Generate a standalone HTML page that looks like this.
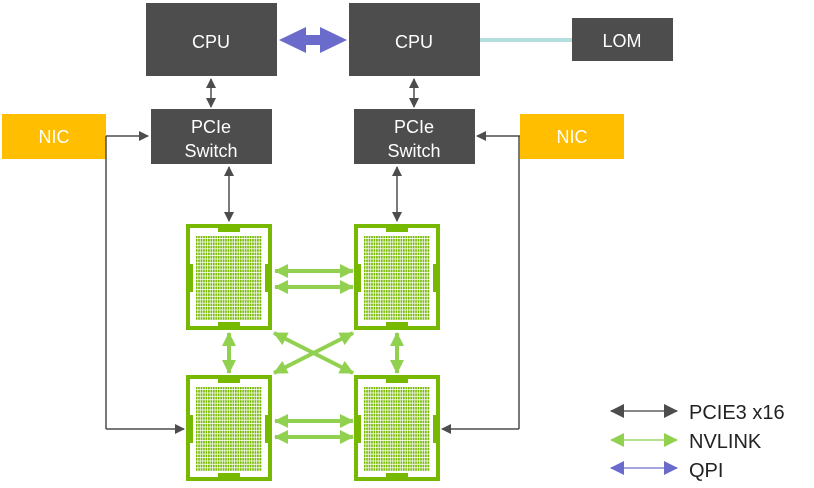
<!DOCTYPE html>
<html><head><meta charset="utf-8"><style>
html,body{margin:0;padding:0;background:#fff;}
svg{display:block;font-family:"Liberation Sans","DejaVu Sans",sans-serif;}
</style></head><body>
<svg width="814" height="488" viewBox="0 0 814 488" xmlns="http://www.w3.org/2000/svg">
<defs>
<pattern id="g" patternUnits="userSpaceOnUse" width="2.45" height="3.4" x="196" y="236">
<rect width="1.7" height="2.6" fill="#76b900"/>
</pattern>
<g id="chip">
<rect x="2" y="2" width="82" height="102" fill="none" stroke="#76b900" stroke-width="4"/>
<rect x="32" y="0" width="22" height="8" fill="#76b900"/>
<rect x="32" y="98" width="22" height="8" fill="#76b900"/>
<rect x="3" y="40" width="4" height="28" fill="#76b900"/>
<rect x="79" y="40" width="4" height="28" fill="#76b900"/>
<rect x="10" y="12" width="66" height="84" fill="url(#g)"/>
</g>
<marker id="ad" viewBox="0 0 10 10" refX="9" refY="5" markerWidth="10" markerHeight="10" markerUnits="userSpaceOnUse" orient="auto-start-reverse"><path d="M0,0L10,5L0,10z" fill="#4d4d4d"/></marker>
<marker id="ag" viewBox="0 0 14 14" refX="13" refY="7" markerWidth="14" markerHeight="14" markerUnits="userSpaceOnUse" orient="auto-start-reverse"><path d="M0,0L14,7L0,14z" fill="#92d050"/></marker>
<marker id="ad2" viewBox="0 0 14 14" refX="13" refY="7" markerWidth="14" markerHeight="14" markerUnits="userSpaceOnUse" orient="auto-start-reverse"><path d="M0,0L14,7L0,14z" fill="#4d4d4d"/></marker>
<marker id="ap" viewBox="0 0 14 14" refX="13" refY="7" markerWidth="14" markerHeight="14" markerUnits="userSpaceOnUse" orient="auto-start-reverse"><path d="M0,0L14,7L0,14z" fill="#6b6bcc"/></marker>
</defs>

<rect x="146" y="3" width="131" height="73" fill="#4d4d4d"/>
<rect x="349" y="3" width="131" height="73" fill="#4d4d4d"/>
<rect x="572" y="18" width="101" height="43" fill="#4d4d4d"/>
<rect x="151" y="109" width="121" height="55" fill="#4d4d4d"/>
<rect x="354" y="109" width="121" height="55" fill="#4d4d4d"/>
<rect x="2" y="114" width="104" height="45" fill="#ffbf00"/>
<rect x="520" y="114" width="104" height="45" fill="#ffbf00"/>

<g fill="#fff" font-size="18" text-anchor="middle">
<text x="211" y="48">CPU</text>
<text x="414" y="48">CPU</text>
<text x="622" y="47">LOM</text>
<text x="211" y="133">PCIe</text>
<text x="211" y="157">Switch</text>
<text x="414" y="133">PCIe</text>
<text x="414" y="157">Switch</text>
<text x="54" y="143">NIC</text>
<text x="572" y="143">NIC</text>
</g>

<path d="M279,40L306,27L306,35L320,35L320,27L347,40L320,53L320,45L306,45L306,53z" fill="#6b6bcc"/>
<line x1="480" y1="40" x2="572" y2="40" stroke="#b5dede" stroke-width="4"/>

<g stroke="#4d4d4d" stroke-width="1.5" fill="none">
<line x1="211" y1="79" x2="211" y2="107" marker-start="url(#ad)" marker-end="url(#ad)"/>
<line x1="414" y1="79" x2="414" y2="107" marker-start="url(#ad)" marker-end="url(#ad)"/>
<line x1="229" y1="167" x2="229" y2="221" marker-start="url(#ad)" marker-end="url(#ad)"/>
<line x1="397" y1="167" x2="397" y2="221" marker-start="url(#ad)" marker-end="url(#ad)"/>
<line x1="106" y1="136" x2="148" y2="136" marker-end="url(#ad)"/>
<line x1="106" y1="136" x2="106" y2="429"/>
<line x1="106" y1="429" x2="184" y2="429" marker-end="url(#ad)"/>
<line x1="520" y1="136" x2="477" y2="136" marker-end="url(#ad)"/>
<line x1="519" y1="136" x2="519" y2="429"/>
<line x1="519" y1="429" x2="442" y2="429" marker-end="url(#ad)"/>
</g>

<use href="#chip" x="186" y="224"/>
<use href="#chip" x="354" y="224"/>
<use href="#chip" x="186" y="375"/>
<use href="#chip" x="354" y="375"/>

<g stroke="#92d050" stroke-width="4" fill="none">
<line x1="275" y1="271" x2="353" y2="271" marker-start="url(#ag)" marker-end="url(#ag)"/>
<line x1="275" y1="287" x2="353" y2="287" marker-start="url(#ag)" marker-end="url(#ag)"/>
<line x1="275" y1="421" x2="353" y2="421" marker-start="url(#ag)" marker-end="url(#ag)"/>
<line x1="275" y1="437" x2="353" y2="437" marker-start="url(#ag)" marker-end="url(#ag)"/>
<line x1="229" y1="333" x2="229" y2="373" marker-start="url(#ag)" marker-end="url(#ag)"/>
<line x1="397" y1="333" x2="397" y2="373" marker-start="url(#ag)" marker-end="url(#ag)"/>
<line x1="274" y1="333" x2="353" y2="373" marker-start="url(#ag)" marker-end="url(#ag)"/>
<line x1="353" y1="333" x2="274" y2="373" marker-start="url(#ag)" marker-end="url(#ag)"/>
</g>

<line x1="611" y1="411" x2="677" y2="411" stroke="#888" stroke-width="2" marker-start="url(#ad2)" marker-end="url(#ad2)"/>
<line x1="611" y1="440" x2="677" y2="440" stroke="#b5e08f" stroke-width="2" marker-start="url(#ag)" marker-end="url(#ag)"/>
<line x1="611" y1="468" x2="677" y2="468" stroke="#a5a5e0" stroke-width="2" marker-start="url(#ap)" marker-end="url(#ap)"/>
<g fill="#222" font-size="20">
<text x="689" y="419">PCIE3 x16</text>
<text x="689" y="448">NVLINK</text>
<text x="689" y="477">QPI</text>
</g>
</svg>
</body></html>
